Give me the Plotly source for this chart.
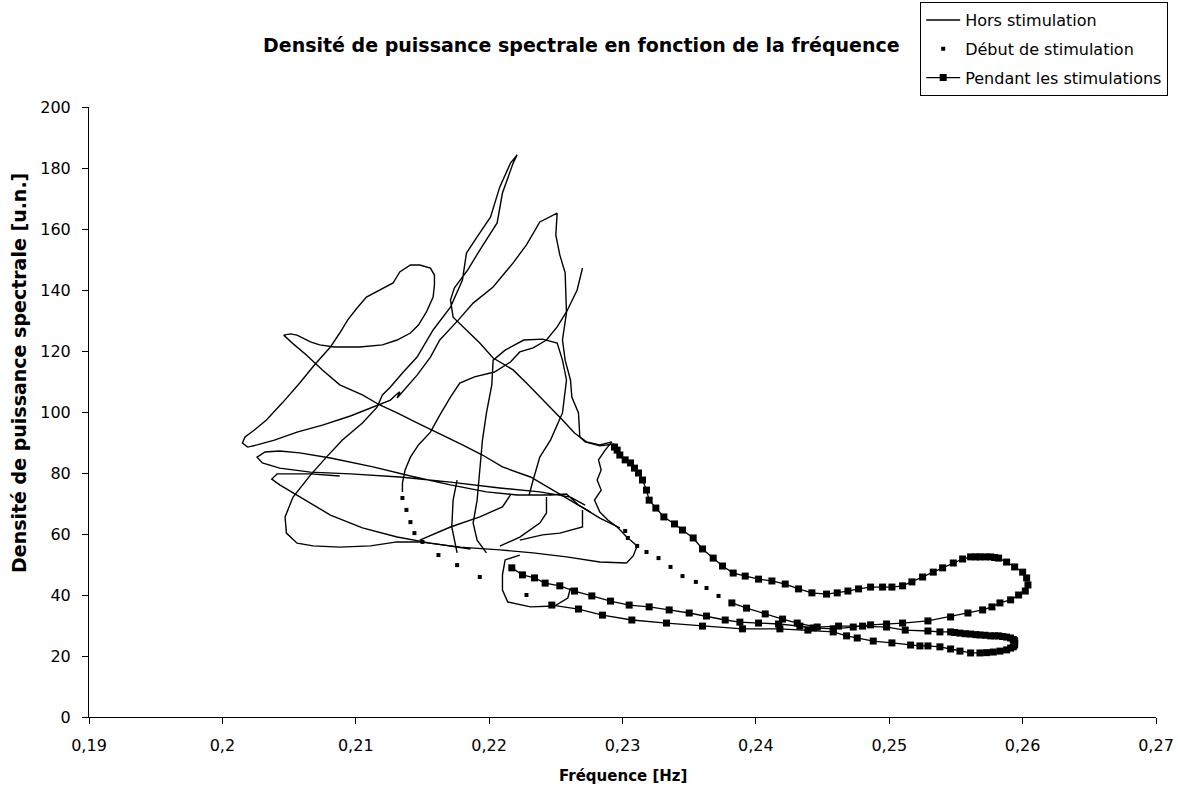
import plotly.graph_objects as go

# ---- "Hors stimulation" trajectory (frequency [Hz], PSD [u.n.]); None separates recordings
hors_f = [
    0.2303, 0.2283, 0.2258, 0.2233, 0.2208, 0.2178, 0.2148, 0.2131, 0.2111, 0.2088, 0.2068, 0.2056,
    0.2048, 0.2047, 0.2053, 0.2066, 0.2078, 0.2090, 0.2105, 0.2116, 0.2120, 0.2126, 0.2135, 0.2146,
    0.2158, 0.2171, 0.2180, 0.2183, 0.2191, 0.2201, 0.2208, 0.2216, 0.2221, 0.2218, 0.2210, 0.2206,
    0.2193, 0.2184, 0.2174, 0.2171, 0.2173, 0.2183, 0.2193, 0.2203, 0.2218, 0.2228, 0.2242, 0.2255,
    0.2264, 0.2273, 0.2283, 0.2292, 0.2287, 0.2282, 0.2284, 0.2281, 0.2284, 0.2279, 0.2283, 0.2289,
    0.2296, 0.2304, 0.2311, 0.2308, 0.2303, None,
    0.2298, 0.2283, 0.2273, 0.2258, 0.2248, 0.2231, 0.2210, 0.2195, 0.2180, 0.2161, 0.2146, 0.2131,
    0.2118, 0.2105, 0.2088, 0.2075, 0.2063, 0.2054, 0.2048, 0.2046, 0.2051, 0.2056, 0.2066, 0.2073,
    0.2084, 0.2103, 0.2120, 0.2131, 0.2141, 0.2147, 0.2153, 0.2158, 0.2159, 0.2159, 0.2156, 0.2148,
    0.2141, 0.2133, 0.2128, 0.2118, 0.2108, 0.2101, 0.2094, 0.2088, 0.2081, 0.2069, 0.2058, 0.2045,
    0.2033, 0.2024, 0.2017, 0.2015, 0.2019, 0.2026, 0.2039, 0.2056, 0.2075, 0.2096, 0.2116, 0.2126,
    0.2130, 0.2133, 0.2131, 0.2135, 0.2146, 0.2156, 0.2163, 0.2177, 0.2188, 0.2203, 0.2218, 0.2228,
    0.2238, 0.2251, 0.2250, 0.2253, 0.2257, 0.2258, 0.2255, 0.2257, 0.2261, 0.2262, 0.2267, 0.2268,
    0.2272, 0.2283, 0.2294, None,
    0.2270, 0.2266, 0.2258, 0.2251, 0.2243, 0.2233, 0.2223, 0.2216, 0.2204, 0.2189, 0.2178, 0.2171,
    0.2163, 0.2156, 0.2147, 0.2141, 0.2137, 0.2135, 0.2135, None,
    0.2276, 0.2267, 0.2258, 0.2246, 0.2221, 0.2198, 0.2171, 0.2141, 0.2113, 0.2081, 0.2058, 0.2043,
    0.2032, 0.2026, 0.2030, 0.2043, 0.2066, 0.2096, 0.2133, 0.2171, 0.2208, 0.2238, 0.2261, 0.2272, None,
    0.2186, 0.2156, 0.2131, 0.2105, 0.2081, 0.2056, 0.2043, 0.2037, 0.2041, 0.2066, 0.2088, None,
    0.2198, 0.2191, 0.2188, 0.2191, 0.2193, 0.2195, 0.2198, 0.2202, 0.2203, 0.2212, 0.2226, 0.2240,
    0.2251, 0.2255, 0.2258, 0.2255, 0.2246, 0.2238, 0.2233, 0.2230, None,
    0.2176, 0.2173, 0.2172, 0.2176, None,
    0.2216, 0.2210, 0.2193, 0.2171, 0.2148, None,
    0.2243, 0.2243, 0.2238, 0.2223, 0.2208, None,
    0.2270, 0.2270, 0.2253, 0.2240, 0.2223, None,
    0.2223, 0.2212, 0.2210, 0.2210, 0.2214, 0.2231, 0.2249, 0.2259, 0.2261,
]
hors_dsp = [
    50.5, 50.8, 52.5, 53.8, 54.8, 55.7, 57.4, 57.4, 56.1, 55.7, 56.1, 57.0,
    60.3, 65.6, 72.1, 79.3, 85.2, 90.8, 96.4, 101.6, 105.6, 108.2, 112.8, 118.0,
    126.9, 134.4, 143.3, 152.1, 157.4, 163.9, 173.8, 181.6, 184.3, 181.6, 171.8, 162.0,
    153.1, 146.6, 140.7, 136.7, 131.1, 126.9, 122.6, 117.7, 113.8, 109.5, 103.3, 97.4,
    93.1, 90.2, 89.2, 90.2, 87.5, 84.3, 81.0, 77.7, 74.4, 71.1, 67.2, 64.6,
    62.3, 58.7, 56.1, 52.8, 50.5, None,
    62.0, 65.2, 67.9, 71.8, 74.4, 78.7, 82.0, 85.9, 89.2, 93.1, 96.4, 99.7,
    102.3, 105.6, 108.9, 113.8, 118.7, 122.0, 124.3, 125.2, 125.6, 125.2, 123.0, 122.0,
    121.3, 121.3, 122.0, 123.6, 125.9, 128.5, 132.8, 137.7, 141.6, 144.9, 147.2, 148.2,
    148.2, 145.9, 142.3, 140.0, 137.7, 134.1, 130.2, 125.9, 121.3, 115.4, 109.5, 103.0,
    97.4, 94.1, 91.8, 89.8, 88.5, 89.2, 90.8, 93.4, 95.7, 98.7, 102.3, 103.9,
    105.6, 106.6, 104.6, 106.6, 112.1, 118.0, 123.6, 130.2, 135.7, 141.0, 148.9, 154.8,
    162.3, 165.2, 158.0, 151.5, 145.6, 132.5, 123.6, 117.0, 110.5, 104.9, 99.7, 91.8,
    90.2, 88.9, 89.5, None,
    147.2, 140.0, 132.8, 127.9, 123.6, 121.0, 119.7, 116.4, 113.1, 111.5, 109.5, 104.9,
    99.0, 93.4, 89.2, 85.2, 81.0, 76.7, 73.8, None,
    67.2, 69.5, 73.1, 72.8, 72.8, 73.8, 76.1, 79.0, 82.0, 84.9, 86.6, 87.2,
    86.9, 85.2, 83.3, 81.6, 80.3, 79.7, 78.7, 77.0, 75.1, 73.8, 72.1, 69.5, None,
    55.1, 57.0, 59.0, 62.0, 66.2, 72.8, 76.1, 78.0, 79.7, 79.7, 79.0, None,
    53.8, 58.0, 63.6, 71.1, 81.0, 90.8, 99.7, 108.9, 117.0, 120.3, 123.6, 123.9,
    122.6, 117.0, 110.5, 99.7, 90.8, 85.2, 77.7, 72.8, None,
    77.7, 71.1, 62.3, 53.8, None,
    72.8, 68.9, 65.6, 62.3, 58.0, None,
    72.1, 66.9, 63.6, 59.0, 56.0, None,
    67.9, 62.3, 60.3, 59.7, 58.0, None,
    53.1, 51.5, 46.6, 41.6, 37.7, 36.1, 36.4, 39.0, 42.3,
]

# ---- "Début de stimulation" samples
debut_f = [0.2135, 0.2138, 0.2141, 0.2144, 0.2150, 0.2162, 0.2176, 0.2193, 0.2228,
           0.2302, 0.2304, 0.2311, 0.2318, 0.2327, 0.2336, 0.2345, 0.2355, 0.2363, 0.2372]
debut_dsp = [71.8, 67.9, 63.9, 60.3, 57.4, 53.1, 49.8, 45.9, 40.0,
             61.0, 58.7, 56.1, 54.1, 52.1, 49.2, 46.2, 44.3, 42.3, 39.7]

# ---- "Pendant les stimulations" trajectory
pendant_f = [
    0.2294, 0.2296, 0.2298, 0.2302, 0.2306, 0.2309, 0.2312, 0.2315, 0.2318, 0.2320, 0.2325, 0.2331,
    0.2339, 0.2345, 0.2353, 0.2360, 0.2368, 0.2375, 0.2383, 0.2392, 0.2402, 0.2412, 0.2422, 0.2432,
    0.2442, 0.2453, 0.2461, 0.2469, 0.2477, 0.2486, 0.2495, 0.2502, 0.2510, 0.2517, 0.2525, 0.2533,
    0.2540, 0.2548, 0.2555, 0.2561, 0.2565, 0.2568, 0.2572, 0.2576, 0.2579, 0.2582, 0.2588, 0.2594,
    0.2600, 0.2603, 0.2604, 0.2602, 0.2597, 0.2591, 0.2583, 0.2577, 0.2570, 0.2559, 0.2546, 0.2529,
    0.2510, 0.2498, 0.2486, 0.2473, 0.2458, 0.2443, 0.2433, 0.2417, 0.2402, 0.2388, 0.2377, 0.2363,
    0.2350, 0.2335, 0.2320, 0.2305, 0.2291, 0.2277, 0.2264, 0.2253, 0.2242, 0.2234, 0.2225, 0.2217, None,
    0.2247, 0.2267, 0.2285, 0.2307, 0.2333, 0.2360, 0.2390, 0.2418, 0.2439, 0.2458, 0.2468, 0.2476,
    0.2488, 0.2502, 0.2516, 0.2523, 0.2529, 0.2538, 0.2546, 0.2553, 0.2561, 0.2568, 0.2573, 0.2578,
    0.2583, 0.2588, 0.2591, 0.2593, 0.2594, 0.2594, 0.2594, 0.2593, 0.2591, 0.2588, 0.2585, 0.2582,
    0.2579, 0.2576, 0.2572, 0.2568, 0.2565, 0.2561, 0.2557, 0.2553, 0.2549, 0.2546, 0.2538, 0.2529,
    0.2512, 0.2498, 0.2480, 0.2462, 0.2446, 0.2431, 0.2420, 0.2407, 0.2393, 0.2382,
]
pendant_dsp = [
    88.5, 87.5, 85.9, 84.3, 83.3, 81.6, 80.0, 77.7, 74.4, 71.1, 68.5, 65.6,
    63.3, 61.3, 58.7, 55.1, 52.1, 49.5, 47.2, 46.2, 45.2, 44.6, 43.6, 42.0,
    40.7, 40.3, 40.7, 41.3, 42.0, 42.6, 42.6, 42.6, 43.0, 44.3, 45.9, 47.5,
    48.9, 50.5, 51.8, 52.5, 52.5, 52.5, 52.5, 52.5, 52.3, 52.1, 50.8, 49.2,
    47.5, 45.6, 43.3, 41.3, 40.0, 38.4, 37.4, 36.1, 35.1, 34.1, 32.8, 31.5,
    30.8, 30.5, 30.2, 29.5, 28.9, 29.2, 29.8, 30.5, 30.8, 31.1, 31.8, 33.1,
    34.1, 35.1, 36.1, 36.7, 38.0, 39.7, 41.3, 43.0, 43.9, 45.6, 46.6, 48.9, None,
    36.7, 35.4, 33.4, 31.8, 30.8, 29.8, 28.9, 28.9, 28.5, 27.9, 26.6, 25.9,
    24.9, 24.3, 23.6, 23.3, 23.3, 23.0, 22.3, 21.6, 21.0, 21.0, 21.1, 21.3,
    21.6, 22.0, 22.6, 23.0, 23.6, 24.3, 25.0, 25.4, 25.9, 26.2, 26.4, 26.6,
    26.6, 26.6, 26.8, 26.9, 27.0, 27.2, 27.3, 27.5, 27.7, 27.9, 27.9, 28.2,
    28.5, 29.5, 29.8, 29.8, 29.5, 30.8, 32.1, 33.8, 35.7, 37.4,
]

x_ticks = [0.19, 0.20, 0.21, 0.22, 0.23, 0.24, 0.25, 0.26, 0.27]
x_tick_text = ["0,19", "0,2", "0,21", "0,22", "0,23", "0,24", "0,25", "0,26", "0,27"]
y_ticks = [0, 20, 40, 60, 80, 100, 120, 140, 160, 180, 200]

FONT = "DejaVu Sans, Liberation Sans, sans-serif"

fig = go.Figure()
fig.add_trace(go.Scatter(
    x=hors_f, y=hors_dsp, mode="lines", name="Hors stimulation",
    line=dict(color="black", width=1.4), connectgaps=False, legendgroup="a",
))
fig.add_trace(go.Scatter(
    x=debut_f, y=debut_dsp, mode="markers", name="Début de stimulation",
    marker=dict(symbol="square", size=4, color="black"), legendgroup="b",
))
fig.add_trace(go.Scatter(
    x=pendant_f, y=pendant_dsp, mode="lines+markers", name="Pendant les stimulations",
    line=dict(color="black", width=1.3), connectgaps=False,
    marker=dict(symbol="square", size=7, color="black"), legendgroup="c",
))

fig.update_layout(
    width=1178, height=791,
    margin=dict(l=89, r=22, t=107, b=74, autoexpand=False),
    paper_bgcolor="white", plot_bgcolor="white",
    font=dict(family=FONT, color="black", size=15),
    showlegend=True,
    legend=dict(
        x=0.779, y=1.172, xanchor="left", yanchor="top",
        bordercolor="black", borderwidth=1, bgcolor="white",
        font=dict(family=FONT, size=16, color="black"),
        traceorder="grouped", tracegroupgap=5,
        itemwidth=34,
    ),
    xaxis=dict(
        range=[0.19, 0.27], tickvals=x_ticks, ticktext=x_tick_text,
        showline=True, linecolor="black", linewidth=1, mirror=False,
        ticks="outside", ticklen=6, tickcolor="black", ticklabelstandoff=8,
        showgrid=False, zeroline=False,
        tickfont=dict(family=FONT, size=16, color="black"),
    ),
    yaxis=dict(
        range=[0, 200], tickvals=y_ticks,
        showline=True, linecolor="black", linewidth=1,
        ticks="outside", ticklen=6, tickcolor="black", ticklabelstandoff=8,
        showgrid=False, zeroline=False,
        tickfont=dict(family=FONT, size=16, color="black"),
    ),
    annotations=[
        dict(text="<b>Densité de puissance spectrale en fonction de la fréquence</b>",
             xref="paper", yref="paper", x=0.462, y=1.102, xanchor="center", yanchor="middle",
             showarrow=False, font=dict(family=FONT, size=19, color="black")),
        dict(text="<b>Fréquence [Hz]</b>",
             xref="paper", yref="paper", x=0.5, y=-0.097, xanchor="center", yanchor="middle",
             showarrow=False, font=dict(family=FONT, size=15, color="black")),
        dict(text="<b>Densité de puissance spectrale [u.n.]</b>",
             xref="paper", yref="paper", x=-0.0656, y=0.564, xanchor="center", yanchor="middle",
             textangle=-90, showarrow=False, font=dict(family=FONT, size=19, color="black")),
    ],
)

fig.write_html("out.html")
